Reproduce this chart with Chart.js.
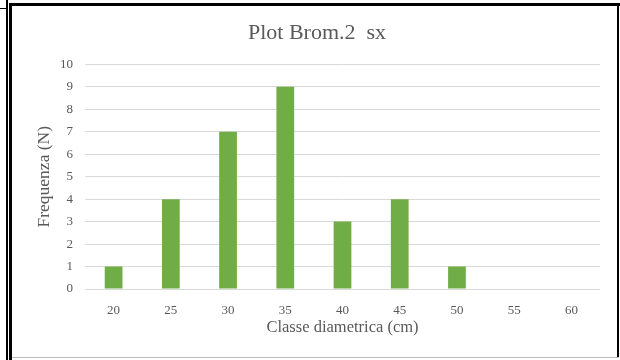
<!DOCTYPE html>
<html>
<head>
<meta charset="utf-8">
<script src="https://cdn.jsdelivr.net/npm/chart.js@4"></script>
<style>
  html, body { margin: 0; padding: 0; background: #fff; }
  body { width: 620px; height: 360px; position: relative; overflow: hidden; }
  #wrap { position: absolute; left: 0; top: 0; width: 620px; height: 360px; }
  .ln { position: absolute; background: #000; pointer-events: none; }
</style>
</head>
<body>
<div id="wrap"><canvas id="c" width="620" height="360"></canvas></div>
<!-- frame around the chart -->
<div class="ln" style="left:6px;top:0;width:2px;height:360px;"></div>
<div class="ln" style="left:0;top:8px;width:7px;height:1px;"></div>
<div class="ln" style="left:9px;top:3px;width:3px;height:360px;"></div>
<div class="ln" style="left:9px;top:3px;width:611px;height:3px;"></div>
<div class="ln" style="left:617px;top:3px;width:2px;height:354px;"></div>
<div class="ln" style="left:12px;top:357px;width:607px;height:1px;background:#bbb;"></div>
<script>
const categories = ['20', '25', '30', '35', '40', '45', '50', '55', '60'];
const frequencies = [1, 4, 7, 9, 3, 4, 1, 0, 0];
const yTicks = [0, 1, 2, 3, 4, 5, 6, 7, 8, 9, 10];

const serif = "'Liberation Serif', 'Times New Roman', serif";
const grey = '#595959';

new Chart(document.getElementById('c'), {
  type: 'bar',
  data: {
    labels: categories,
    datasets: [{
      label: 'Frequenza',
      data: frequencies,
      backgroundColor: '#70AD47',
      borderWidth: 0,
      barPercentage: 0.62,
      categoryPercentage: 0.5
    }]
  },
  options: {
    responsive: false,
    animation: false,
    devicePixelRatio: 1,
    layout: { padding: { left: 34, right: 20, top: 20, bottom: 22 } },
    plugins: {
      legend: { display: false },
      tooltip: { enabled: false },
      title: {
        display: true,
        text: 'Plot Brom.2  sx',
        color: grey,
        font: { family: serif, size: 22, weight: 'normal' },
        padding: { top: 0, bottom: 18 }
      }
    },
    scales: {
      x: {
        grid: { display: false },
        border: { display: false },
        ticks: { color: grey, font: { family: serif, size: 13 }, padding: 6 },
        title: {
          display: true,
          text: 'Classe diametrica (cm)',
          color: grey,
          font: { family: serif, size: 16.5 },
          padding: { top: 0, bottom: 0 }
        },
        afterFit: (s) => { s.height = 49; }
      },
      y: {
        min: 0,
        max: 10,
        afterBuildTicks: (s) => { s.ticks = yTicks.map(v => ({ value: v })); },
        grid: { color: '#d9d9d9', lineWidth: 1, drawTicks: false },
        border: { display: false },
        ticks: { color: grey, font: { family: serif, size: 13 }, padding: 12 },
        title: {
          display: true,
          text: 'Frequenza (N)',
          color: grey,
          font: { family: serif, size: 17.5 },
          padding: { top: 0, bottom: 0 }
        },
        afterFit: (s) => { s.width = 51; }
      }
    }
  }
});
</script>
</body>
</html>
